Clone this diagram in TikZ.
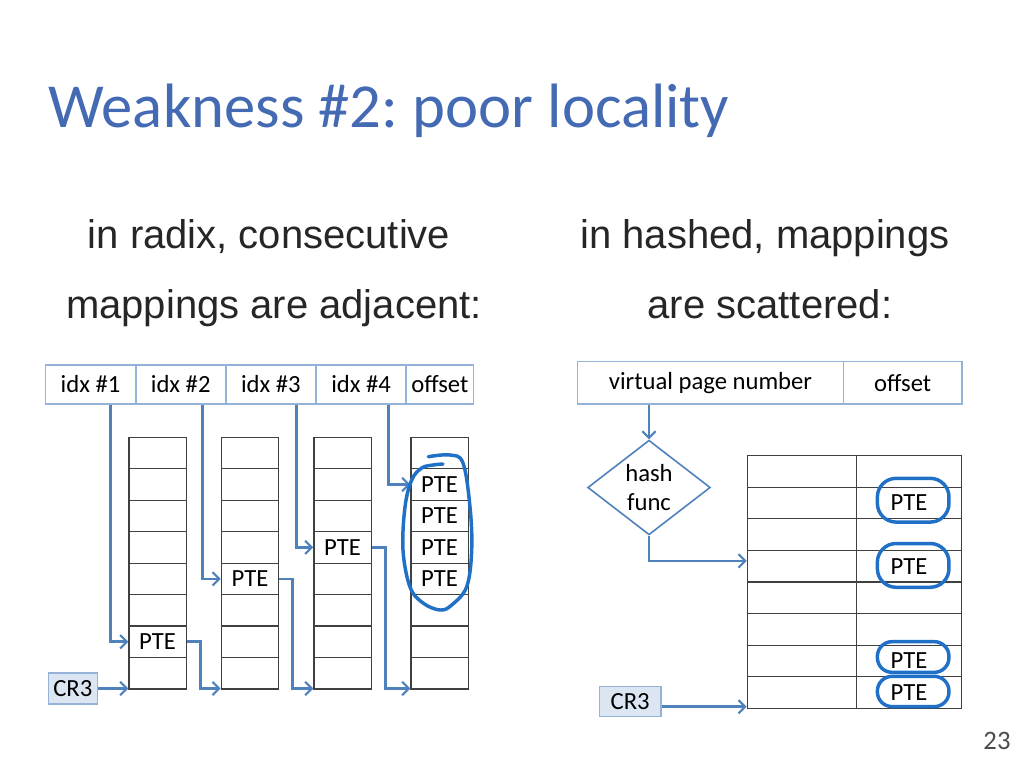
\documentclass[tikz,border=0pt]{standalone}
\usepackage{fontspec}
\setmainfont{Carlito}
\newfontfamily\arialfont{Liberation Sans}
\usetikzlibrary{arrows.meta,calc,positioning,shapes.geometric}
\definecolor{titleblue}{RGB}{68,106,180}
\definecolor{linkblue}{RGB}{79,129,189}
\definecolor{fieldblue}{RGB}{149,179,215}
\definecolor{regfill}{RGB}{220,230,242}
\definecolor{penblue}{RGB}{32,112,200}
\frenchspacing

\begin{document}
\begin{tikzpicture}[x=0.75pt,y=-0.75pt,
  label/.style={font=\fontsize{18.5}{22}\selectfont},
  field/.style={label,draw=fieldblue,line width=1.2pt,minimum height=29.2pt,inner sep=0pt,anchor=north west},
  cell/.style={draw=black!75,line width=0.9pt,inner sep=0pt,minimum width=43pt,minimum height=23.6pt,anchor=north west},
  reg/.style={label,draw=fieldblue,fill=regfill,line width=1pt,inner sep=0pt},
  subtitle/.style={anchor=base,inner sep=0pt,font=\arialfont\fontsize{30}{36}\selectfont,text=black!85},
  arrow/.style={-{Straight Barb[length=5pt,width=10pt,line width=1.6pt]},linkblue,line width=1.9pt},
  pen/.style={penblue,line width=2.6pt,line cap=round,line join=round}
]
\useasboundingbox (0,0) rectangle (1024,768);

\node[anchor=base west,inner sep=0pt,text=titleblue,font=\fontsize{47}{56}\selectfont] (title) at (48,127) {Weakness \#2: poor locality};
\node[subtitle] (radix1) at (269,248) {in radix, consecutive};
\node[subtitle] (radix2) at (274,318) {mappings are adjacent:};
\node[subtitle] (hash1) at (765,248) {in hashed, mappings};
\node[subtitle] (hash2) at (770,318) {are scattered:};

% radix: address fields and the four levels
\foreach \i/\x in {1/44.5,2/134.7,3/224.9,4/315.1}
  \node[field,minimum width=67.8pt] (idx\i) at (\x,364) {idx \#\i};
\node[field,minimum width=50.6pt] (off) at (405.3,364) {offset};
\foreach \c/\x in {1/128.3,2/220.7,3/313.3,4/410.3}
  \foreach \r in {0,...,7}
    \node[cell] (c\c-\r) at (\x,{436.7+31.45*\r}) {};
\foreach \n/\c/\r in {a/1/6,b/2/4,c/3/3,d/4/1,e/4/2,f/4/3,g/4/4}
  \node[label] (pte\n) at (c\c-\r) {PTE};
\foreach \i/\r/\s in {1/6/13.5pt,2/4/13.5pt,3/3/12.75pt,4/1/16.5pt} {
  \coordinate (drop\i) at ([xshift=-\s]c\i-\r.west);
  \draw[arrow] (drop\i |- idx\i.south) |- (c\i-\r.west);
}
\foreach \a/\r/\b in {1/6/2,2/4/3,3/3/4}
  \draw[arrow] (c\a-\r.east) -- ++(13.5,0) |- ([yshift=0.75pt]c\b-7.south west);
\node[reg,minimum width=36.8pt,minimum height=23.2pt] (cr3a) at (72.8,688.5) {CR3};
\draw[arrow] (cr3a.east) -- (cr3a.east -| c1-7.west);
\draw[pen] plot[smooth,tension=0.6] coordinates {(428.3,456.7) (450,455) (463,463) (470,507) (471.7,550) (466.7,586.7) (451.7,605) (440,610) (423,603) (410,587) (403,550) (405,507) (411.7,480) (421.7,468) (433,465) (443,464)};

% hashed: hash function and table
\node[field,minimum width=199.5pt,minimum height=32pt] (vpn) at (576.7,360.7) {virtual page number};
\node[field,minimum width=88.7pt,minimum height=32pt] (off2) at (842.7,360.7) {offset};
\node[label,diamond,draw=linkblue,line width=1.2pt,minimum width=92pt,minimum height=71pt,inner sep=0pt,align=center] (hf) at (649,487.5) {hash\\func};
\foreach \r in {0,...,7} {
  \node[cell,minimum width=81.75pt,minimum height=23.7pt] (ha-\r) at (746.7,{455+31.6*\r}) {};
  \node[cell,minimum width=79pt,minimum height=23.7pt] (hb-\r) at (855.7,{455+31.6*\r}) {};
}
\foreach \r/\t/\b/\k in {1/18.5pt/-14.3pt/14pt,3/17pt/-15.8pt/14pt,6/14.5pt/-8.5pt/11pt,7/12.2pt/-10.5pt/11pt} {
  \node[label] (hp\r) at (hb-\r) {PTE};
  \draw[pen,rounded corners=\k] ([shift={(-23.7pt,\b)}]hb-\r.center) rectangle ([shift={(30pt,\t)}]hb-\r.center);
}
\draw[arrow] (hf.north |- vpn.south) -- (hf.north);
\draw[arrow] (hf.south) |- ([yshift=4pt]ha-3.west);
\node[reg,minimum width=46.3pt,minimum height=22.5pt] (cr3b) at (630.2,701.7) {CR3};
\coordinate (cr3b-out) at ([yshift=-3.75pt]cr3b.east);
\draw[arrow] (cr3b-out) -- (cr3b-out -| ha-7.west);

\node[text=black!70,font=\fontsize{20}{24}\selectfont] (pagenum) at (997,741) {23};
\end{tikzpicture}
\end{document}
